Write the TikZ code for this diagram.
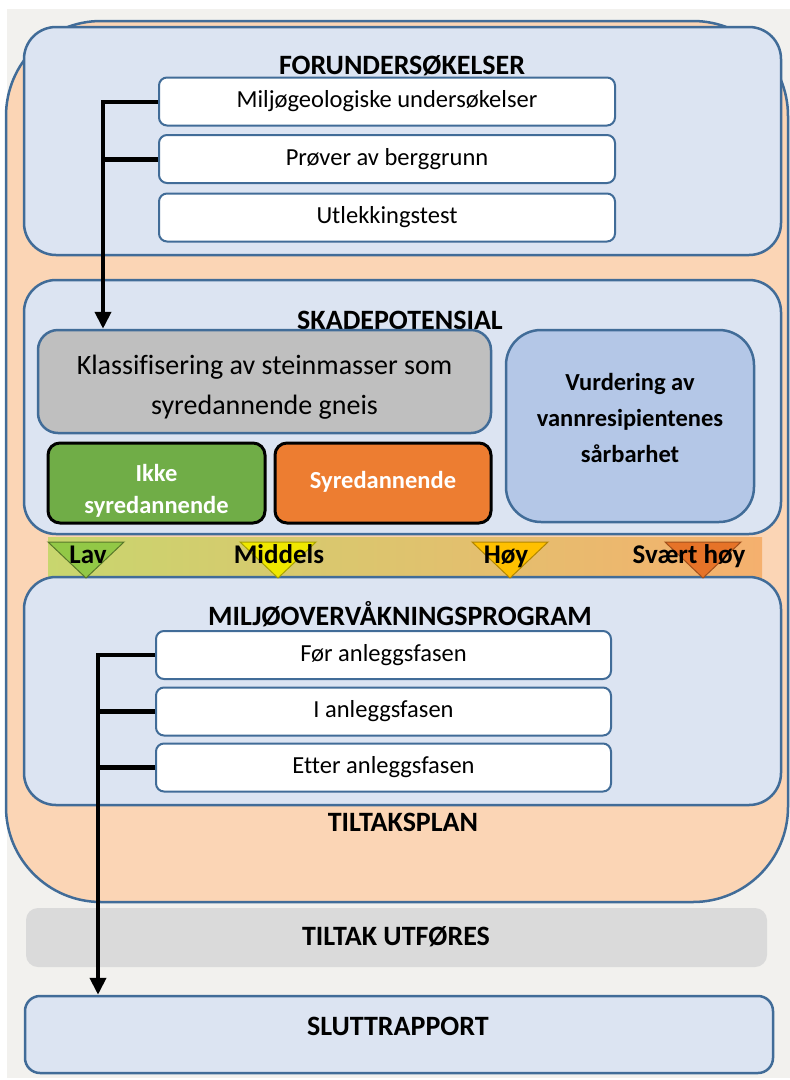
\documentclass[tikz,border=0pt]{standalone}
\usepackage{fontspec}
\setmainfont{Carlito}[Ligatures=NoCommon]
\usetikzlibrary{arrows.meta}

\definecolor{bggray}{RGB}{242,241,238}
\definecolor{peach}{RGB}{251,213,181}
\definecolor{frame}{RGB}{65,108,152}
\definecolor{panelblue}{RGB}{220,228,242}
\definecolor{klassgray}{RGB}{191,191,191}
\definecolor{ikkegreen}{RGB}{112,173,71}
\definecolor{syreorange}{RGB}{237,125,49}
\definecolor{vurdblue}{RGB}{180,199,231}
\definecolor{tiltakgray}{RGB}{218,218,218}
\definecolor{lavgreen}{RGB}{146,200,70}
\definecolor{midyellow}{RGB}{240,232,0}
\definecolor{hoyorange}{RGB}{255,192,0}
\definecolor{svartorange}{RGB}{230,115,40}

\begin{document}
\begin{tikzpicture}[x=1pt, y=-1pt,
  panel/.style={draw=frame, line width=2.5pt, fill=panelblue, rounded corners=32pt},
  item/.style={draw=frame, line width=2pt, fill=white, rounded corners=8pt,
    minimum height=48pt, font=\fontsize{24.5}{29}\selectfont},
  heading/.style={anchor=base, font=\fontsize{28}{33}\selectfont\bfseries},
  result/.style={draw=black, line width=3pt, rounded corners=12pt,
    minimum width=216pt, minimum height=80pt},
  resulttext/.style={text=white, align=center, font=\fontsize{24.5}{32}\selectfont\bfseries},
  level/.style={anchor=base, font=\fontsize{27}{32}\selectfont\bfseries},
  tri/.style={line width=1pt},
  bracket/.style={line width=5pt, black},
  flow/.style={bracket, line width=4pt, -{Triangle[width=16pt,length=17pt]}}]

% Background
\useasboundingbox (0,0) rectangle (790,1080);
\fill[bggray] (7,9) rectangle (790,1078);

% Tiltaksplan (outer shape)
\draw[frame, fill=peach, line width=2.5pt, rounded corners=95pt] (6,21) rectangle (788,902);
\node[heading] (tiltaksplan) at (403,831) {TILTAKSPLAN};

% Risk scale
\shade[left color={rgb,255:red,200;green,214;blue,110}, middle color={rgb,255:red,250;green,222;blue,95},
  right color={rgb,255:red,245;green,176;blue,110}] (48,537) rectangle (762,577);

% Forundersokelser
\node[panel, minimum width=757pt, minimum height=228pt] (forund) at (402.5,141) {};
\node[heading] (forundtitle) at (402,74) {FORUNDERSØKELSER};
\node[item, minimum width=456pt] (m1) at (387,101.5) {Miljøgeologiske undersøkelser};
\node[item, minimum width=456pt] (m2) at (387,159) {Prøver av berggrunn};
\node[item, minimum width=456pt] (m3) at (387,217.5) {Utlekkingstest};

% Skadepotensial
\node[panel, minimum width=757pt, minimum height=254pt] (skade) at (402.5,407) {};
\node[heading] (skadetitle) at (400,329) {SKADEPOTENSIAL};
\node[draw=frame, line width=2.5pt, fill=klassgray, rounded corners=20pt,
  minimum width=453pt, minimum height=103pt] (klass) at (264.5,381.5) {};
\node[align=center, font=\fontsize{28}{40}\selectfont] (klasstext) at (264.5,387)
  {Klassifisering av steinmasser som\\syredannende gneis};
\node[result, fill=ikkegreen, minimum width=217pt] (ikke) at (156.5,483) {};
\node[resulttext] (ikketext) at (156.5,491) {Ikke\\syredannende};
\node[result, fill=syreorange] (syre) at (383,483) {};
\node[resulttext] (syretext) at (383,482) {Syredannende};
\node[draw=frame, line width=2.5pt, fill=vurdblue, rounded corners=35pt,
  minimum width=248pt, minimum height=192pt] (vurd) at (630,426) {};
\node[align=center, font=\fontsize{24.5}{36}\selectfont\bfseries] (vurdtext) at (630,418)
  {Vurdering av\\vannresipientenes\\sårbarhet};

% Miljoovervakningsprogram
\node[panel, minimum width=757pt, minimum height=228pt] (miljo) at (402.5,691) {};
\node[heading] (miljotitle) at (400,625) {MILJØOVERVÅKNINGSPROGRAM};
\node[item, minimum width=455pt] (f1) at (383.5,655) {Før anleggsfasen};
\node[item, minimum width=455pt] (f2) at (383.5,711.5) {I anleggsfasen};
\node[item, minimum width=455pt] (f3) at (383.5,767.5) {Etter anleggsfasen};

% Level markers
\draw[tri, fill=lavgreen, draw=lavgreen!60!black] (48,542) -- (124,542) -- (86,578) -- cycle;
\draw[tri, fill=midyellow, draw=midyellow!70!black] (240,542) -- (316,542) -- (278,578) -- cycle;
\draw[tri, fill=hoyorange, draw=hoyorange!70!black] (472,542) -- (548,542) -- (510,578) -- cycle;
\draw[tri, fill=svartorange, draw=svartorange!70!black] (665,542) -- (741,542) -- (703,578) -- cycle;
\node[level] (lav) at (88,563) {Lav};
\node[level] (middels) at (279,563) {Middels};
\node[level] (hoy) at (506,563) {Høy};
\node[level] (svart) at (689,563) {Svært høy};

% Tiltak utfores and sluttrapport
\node[fill=tiltakgray, rounded corners=12pt, minimum width=741pt, minimum height=59pt] (tiltak) at (396.5,937.5) {};
\node[heading] (tiltaktitle) at (396,945) {TILTAK UTFØRES};
\node[draw=frame, line width=2.5pt, fill=panelblue, rounded corners=15pt,
  minimum width=748pt, minimum height=77pt] (slutt) at (399,1034.5) {};
\node[heading] (sluttitle) at (398,1035) {SLUTTRAPPORT};

% Connectors
\coordinate (c1) at (103,101.5);
\draw[flow] (m1.west) -- (c1) -- (c1 |- klass.north);
\draw[bracket] (m2.west) -- (c1 |- m2.west);
\coordinate (c2) at (98,655);
\draw[flow] (f1.west) -- (c2) -- (c2 |- slutt.north);
\draw[bracket] (f2.west) -- (c2 |- f2.west);
\draw[bracket] (f3.west) -- (c2 |- f3.west);

\end{tikzpicture}
\end{document}
